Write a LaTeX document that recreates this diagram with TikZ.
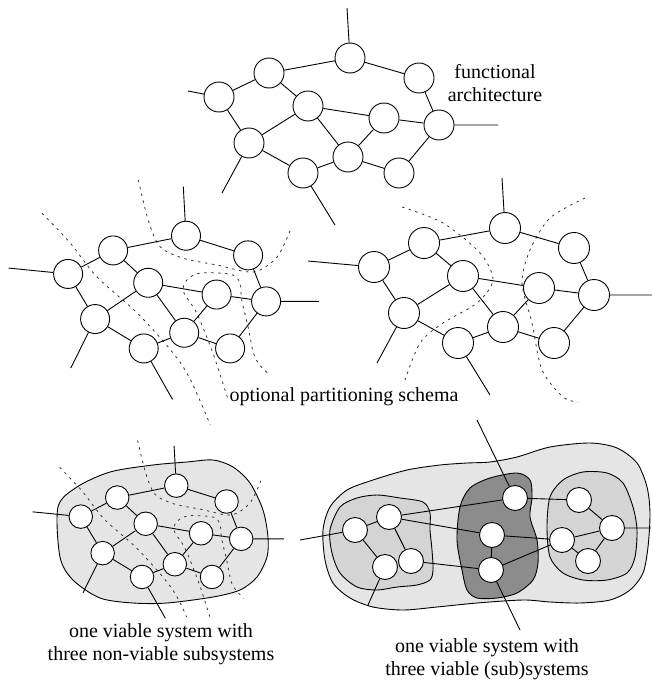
\documentclass[tikz,border=0pt]{standalone}
\usepackage{fontspec}
\setmainfont{Liberation Serif}
\usetikzlibrary{positioning}
\definecolor{pale}{gray}{0.9}
\definecolor{soft}{gray}{0.83}
\definecolor{deep}{gray}{0.55}

\tikzset{unit/.style={circle,draw,fill=white,inner sep=0pt,minimum size=30pt,line width=0.9pt},
cut/.style={dash pattern=on 2.5pt off 4.5pt,line width=0.8pt,black!80},
caption/.style={font=\fontsize{20}{23}\selectfont,align=center}}

% the same net of eleven functions, drawn around (0,0);
% optional argument: where the left input line ends
\newcommand{\unitnet}[2][-177]{%
\node[unit] (#2a) at (20,-57) {};
\node[unit] (#2b) at (-61,-42) {};
\node[unit] (#2c) at (-111,-18) {};
\node[unit] (#2d) at (89,-37) {};
\node[unit] (#2e) at (-22,-9) {};
\node[unit] (#2f) at (54,3) {};
\node[unit] (#2g) at (109,10) {};
\node[unit] (#2h) at (-81,28) {};
\node[unit] (#2i) at (18,42) {};
\node[unit] (#2j) at (-27,58) {};
\node[unit] (#2k) at (69,58) {};
\coordinate (#2up) at (17,-107);
\coordinate (#2left) at (#1,-24);
\coordinate (#2right) at (168,10);
\coordinate (#2sw) at (-108,78);
\coordinate (#2down) at (5,110);
\draw (#2a)--(#2b) (#2a)--(#2d) (#2b)--(#2c) (#2b)--(#2e) (#2c)--(#2h)
(#2e)--(#2h) (#2e)--(#2f) (#2e)--(#2i) (#2d)--(#2g) (#2f)--(#2g)
(#2f)--(#2i) (#2g)--(#2k) (#2h)--(#2j) (#2j)--(#2i) (#2i)--(#2k);
\draw (#2a)--(#2up) (#2c)--(#2left) (#2g)--(#2right) (#2h)--(#2sw) (#2j)--(#2down);}

% partition lines of the left schema
\newcommand{\leftcuts}{%
\draw[cut] plot[smooth] coordinates {(-140,-80) (-109,-50) (-79,-15) (-34,22) (6,63) (25,90) (47,136)};
\draw[cut] plot[smooth] coordinates {(-33,-114) (-22,-73) (-9,-46) (17,-34) (55,-27) (95,-20) (121,-35) (136,-63)};
\draw[cut] plot[smooth] coordinates {(66,108) (50,63) (32,22) (18,2) (18,-8) (25,-15) (36,-19) (55,-19) (72,-17) (80,-9) (82,9) (89,36) (95,63) (102,75) (113,85)};}

\begin{document}
\begin{tikzpicture}[x=1pt,y=-1pt,line width=0.9pt]
\useasboundingbox (0,0) rectangle (651,680);

% functional architecture
\begin{scope}[shift={(330,115)}]
\unitnet[-142]{f}
\end{scope}
\node[caption] (funclabel) at (495,83) {functional\\architecture};

% partitioning, left variant
\begin{scope}[shift={(168,291.6)},xscale=0.9,yscale=0.98,unit/.append style={minimum size=29pt}]
\leftcuts
\unitnet{pl}
\end{scope}

% partitioning, right variant
\begin{scope}[shift={(485,285)},unit/.append style={minimum size=31pt}]
\draw[cut] plot[smooth] coordinates {(-83,-78) (-42,-62) (-5,-32) (8,-5) (-8,18) (-42,38) (-65,58) (-80,95)};
\draw[cut] plot[smooth] coordinates {(100,-87) (65,-67) (45,-35) (37,-2) (47,38) (57,85) (78,112) (93,117)};
\unitnet{pr}
\end{scope}
\node[caption,anchor=base] (schema) at (344,401) {optional partitioning schema};

% one viable system, non-viable parts
\draw[fill=pale] plot[smooth cycle] coordinates {(58,507) (77,487) (110,472) (153,465) (187,462)
(213,460) (233,467) (250,483) (263,510) (268,537) (267,557) (257,577) (240,590) (213,597)
(167,603) (133,603) (100,598) (73,580) (60,557)};
\begin{scope}[shift={(161.7,530.9)},xscale=0.729,yscale=0.794,unit/.append style={minimum size=23.5pt}]
\begin{scope}
\clip (-300,-200) rectangle (300,108);
\leftcuts
\end{scope}
\unitnet{nv}
\end{scope}
\node[caption] (nvlabel) at (161,644) {one viable system with\\three non-viable subsystems};

% one viable system, viable parts
\draw[fill=pale] plot[smooth cycle] coordinates {(323,530) (330,507) (347,490) (373,480) (407,470)
(440,465) (467,463) (490,462) (517,457) (550,447) (590,443) (617,448) (637,463) (647,487)
(650,513) (648,547) (643,573) (630,590) (610,600) (580,603) (550,602) (523,600) (477,603)
(437,607) (403,610) (373,607) (350,598) (333,583) (325,560)};
\draw[fill=soft] plot[smooth cycle] coordinates {(330,530) (340,507) (357,498) (377,495) (400,498)
(423,502) (430,513) (430,530) (432,550) (433,570) (430,580) (417,585) (397,587) (377,590)
(357,587) (340,573) (332,553)};
\draw[fill=deep] plot[smooth cycle] coordinates {(457,540) (460,507) (470,488) (490,478) (517,473)
(530,480) (532,497) (530,517) (537,540) (538,563) (533,580) (517,593) (497,598) (477,598)
(467,590) (462,570)};
\draw[fill=soft] plot[smooth cycle] coordinates {(547,527) (550,497) (563,480) (583,472) (607,473)
(623,483) (633,507) (637,530) (635,557) (627,573) (607,580) (583,580) (563,573) (550,557)};
\begin{scope}[unit/.append style={minimum size=25pt}]
\node[unit] (l1) at (355,530) {};
\node[unit] (l2) at (389,517) {};
\node[unit] (l3) at (385,567) {};
\node[unit] (l4) at (411,561) {};
\node[unit] (m1) at (515,498) {};
\node[unit] (m2) at (492,535) {};
\node[unit] (m3) at (491,570) {};
\node[unit] (r1) at (579,500) {};
\node[unit] (r2) at (612,528) {};
\node[unit] (r3) at (562,540) {};
\node[unit] (r4) at (588,561) {};
\end{scope}
\coordinate (vin) at (300,540);
\coordinate (vl) at (368,605);
\coordinate (vtop) at (477,420);
\coordinate (vbot) at (520,630);
\coordinate (vout) at (651,528);
\draw (l1)--(l2) (l1)--(l3) (l2)--(l4) (l2)--(m1) (l2)--(m2) (l4)--(m3)
(m1)--(r1) (m2)--(m3) (m2)--(r3) (m3)--(r3) (r1)--(r2) (r3)--(r2) (r3)--(r4) (r4)--(r2);
\draw (vin)--(l1) (l3)--(vl) (m1)--(vtop) (m3)--(vbot) (r2)--(vout);
\node[caption] (vlabel) at (487,659) {one viable system with\\three viable (sub)systems};
\end{tikzpicture}
\end{document}
